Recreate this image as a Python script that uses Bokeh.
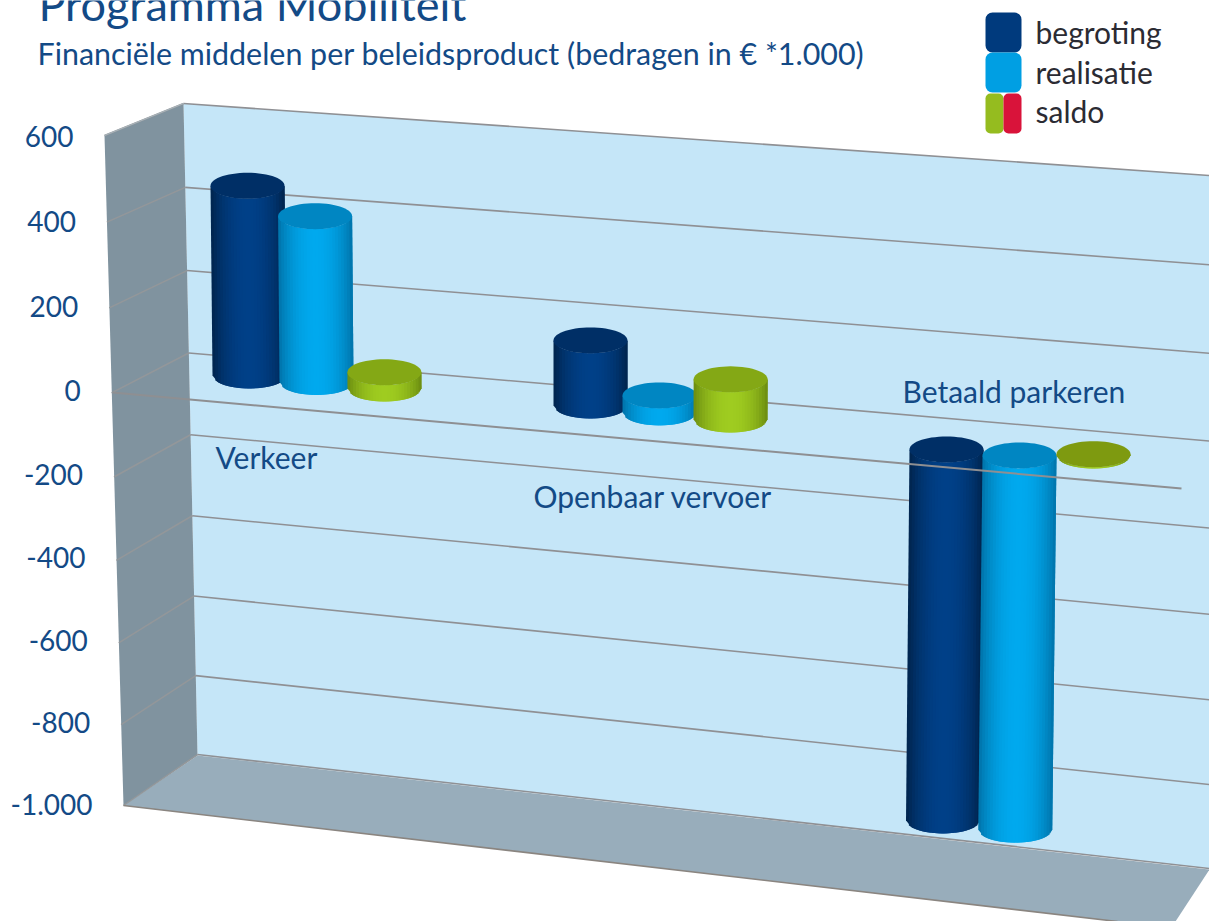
import numpy as np
from bokeh.plotting import figure
from bokeh.models import Range1d
from bokeh.core.properties import value
from bokeh.embed import file_html
from bokeh.resources import INLINE

# ---- data (bedragen in EUR * 1.000)
categories = ["Verkeer", "Openbaar vervoer", "Betaald parkeren"]
begroting = [460, 154, -856]
realisatie = [400, 40, -859]
saldo = [39, 94, 3]
ticks = [600, 400, 200, 0, -200, -400, -600, -800, -1000]
tick_labels = ["600", "400", "200", "0", "-200", "-400", "-600", "-800", "-1.000"]
legend_labels = ["begroting", "realisatie", "saldo"]
title = "Programma Mobiliteit"
subtitle = "Financiële middelen per beleidsproduct  (bedragen in € *1.000)"

# ---- style and layout
W, H = 1209, 921
FONT = "Lato"
C_TEXT = "#134A86"
WALL, SIDE, FLOOR = "#C5E6F8", "#80939F", "#98ADBB"
GRID = "#8F9094"
SERIES = [
    dict(edge="#00234B", mid="#004088", top="#002F66"),
    dict(edge="#0072A8", mid="#00A9EE", top="#0086C2"),
    dict(edge="#6A8A10", mid="#9FCC20", top="#84A815"),
]
SERIES_X = [[249, 316, 384], [590, 659, 730], [946, 1019, 1093]]
LABEL_POS = [(215, 456.5), (533, 495.5), (902, 390.5)]
RADIUS, RY, STRIPS = 37, 13, 26


def Y(screen_y):
    """Screen row -> value on the front axis (600 at row 137, 0.4175 px per unit)."""
    return 600 - (np.asarray(screen_y, dtype=float) - 137) / 0.4175


p = figure(width=W, height=H, output_backend="svg", toolbar_location=None,
           x_range=Range1d(0, W), y_range=Range1d(float(Y(H)), float(Y(0))),
           min_border=0, outline_line_color=None, background_fill_color="white")
p.axis.visible = False
p.grid.visible = False

# ---- box: side wall, back wall, floor
p.patch([183, 1209, 1209, 197], Y([103, 175, 868, 755]), fill_color=WALL, line_color=None)
p.patch([104, 183, 197, 123], Y([135, 103, 755, 805]), fill_color=SIDE, line_color=None)
p.patch([197, 1209, 1175, 1117, 123], Y([755, 869, 921, 921, 805]), fill_color=FLOOR, line_color=None)

for v in ticks:
    f = (600 - v) / 1600
    bow = f * (1 - f)
    xb, yb = 183 + 14 * f, 103 + 651 * f + 23 * bow
    xf, yf = 104 + 19 * f, 135 + 670 * f + 26 * bow
    yr = 175 + 693 * f + 24 * bow
    p.line([xf, xb], Y([yf, yb]), line_color="#93979A", line_width=1.5)
    p.line([xb, 1209], Y([yb, yr]), line_color=GRID, line_width=1.6)
p.line([123, 1117], Y([805, 921]), line_color="#8A8580", line_width=1.6)
p.line([104, 183], Y([135, 103]), line_color="#A9B4BB", line_width=1.2)


# ---- cylinders, projected through the perspective of the box
def zero_row(x):
    return np.interp(x, [249, 384, 590, 730, 946, 1019], [375, 388, 405, 419, 449, 455])


def row(x, v):
    return zero_row(x) - v * (0.405 + 0.00003 * x)


def col(x, v):
    return x + (x - 606) * 1.2e-5 * v


def lerp_hex(a, b, t):
    ca = np.array([int(a[i:i + 2], 16) for i in (1, 3, 5)], dtype=float)
    cb = np.array([int(b[i:i + 2], 16) for i in (1, 3, 5)], dtype=float)
    c = ca + (cb - ca) * t
    return "#%02x%02x%02x" % tuple(int(round(q)) for q in c)


xs, ys, cs = [], [], []
for g, vals in enumerate(zip(begroting, realisatie, saldo)):
    for s, v in enumerate(vals):
        st = SERIES[s]
        xc = SERIES_X[g][s]
        hi, lo = max(v, 0), min(v, 0)
        cx_t, cy_t = col(xc, hi), row(xc, hi)
        cx_b, cy_b = col(xc, lo), row(xc, lo)
        ts = np.linspace(-1, 1, STRIPS + 1)
        for i in range(STRIPS):
            a = ts[i]
            mid = (ts[i] + ts[i + 1]) / 2
            # each strip reaches over the next one, which then paints over it: no seams
            b = ts[min(i + 2, STRIPS)]
            ya, yb = RY * np.sqrt(1 - a * a), RY * np.sqrt(1 - b * b)
            xs.append([cx_t + RADIUS * a, cx_t + RADIUS * b, cx_b + RADIUS * b, cx_b + RADIUS * a])
            ys.append(list(Y([cy_t + ya, cy_t + yb, cy_b + yb, cy_b + ya])))
            cs.append(lerp_hex(st["edge"], st["mid"], (1 - abs(mid) ** 2.0) ** 0.9))
        ang = np.linspace(0, 2 * np.pi, 61)
        top = st["top"] if abs(v) > 10 else "#7E9A10"
        xs.append(list(cx_t + RADIUS * np.cos(ang)))
        ys.append(list(Y(cy_t + RY * np.sin(ang))))
        cs.append(top)
p.patches(xs, ys, fill_color=cs, line_color=None)

# zero line runs across the front of the box, over the bars
p.line([112, 1181], Y([392, 488]), line_color="#8E8F92", line_width=2)

# ---- texts
p.text([38], Y([3]), text=[title], text_font=value(FONT), text_font_size="45px",
       text_color=C_TEXT, text_baseline="alphabetic")
p.text([37], Y([52]), text=[subtitle], text_font=value(FONT), text_font_size="30.4px",
       text_color=C_TEXT, text_baseline="middle")

tf = [(600 - v) / 1600 for v in ticks]
p.text([73 + 19 * f for f in tf], Y([136 + 668 * f + 16 * f * (1 - f) for f in tf]), text=tick_labels,
       text_font=value(FONT), text_font_size="28px", text_color=C_TEXT,
       text_align="right", text_baseline="middle")

p.text([q[0] for q in LABEL_POS], Y([q[1] for q in LABEL_POS]), text=categories,
       text_font=value(FONT), text_font_size="30px", text_color=C_TEXT, text_baseline="middle")

# ---- legend
LEG_ROWS = [(12, 52), (52, 92), (93, 133)]
p.quad(left=[985, 985], right=[1021, 1021],
       top=Y([r[0] for r in LEG_ROWS[:2]]), bottom=Y([r[1] for r in LEG_ROWS[:2]]),
       fill_color=["#003A7D", "#009FE3"], line_color=None, border_radius=7)
p.quad(left=[985, 1003], right=[1003, 1021],
       top=Y([93, 93]), bottom=Y([133, 133]),
       fill_color=["#95BC1F", "#D9133A"], line_color=None, border_radius=5)
p.text([1035, 1035, 1035], Y([31, 71, 110]), text=legend_labels, text_font=value(FONT),
       text_font_size="30px", text_color="#2B2B33", text_baseline="middle")

open("out.html", "w").write(file_html(p, INLINE))
